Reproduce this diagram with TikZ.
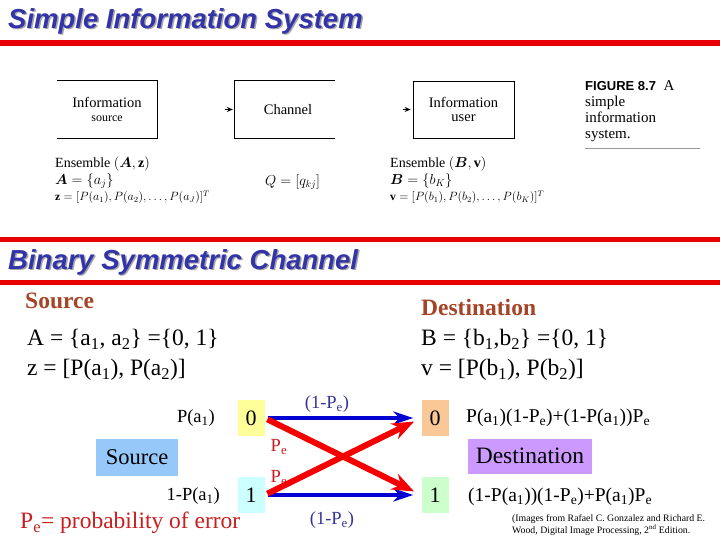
\documentclass[tikz,border=0pt]{standalone}
\usepackage{amsmath,amssymb}
\usepackage{fontspec}
\setmainfont{Liberation Serif}
\newfontfamily\headfont{Liberation Sans}
\usetikzlibrary{positioning,arrows.meta}
\usepackage{xcolor}
\definecolor{headblue}{RGB}{51,51,170}
\definecolor{rulered}{RGB}{232,0,0}
\definecolor{srcbrown}{RGB}{165,68,38}
\definecolor{lblblue}{RGB}{51,51,153}
\definecolor{lblred}{RGB}{200,30,30}
\definecolor{linered}{RGB}{245,0,0}
\definecolor{lineblue}{RGB}{0,0,210}
\definecolor{boxyellow}{RGB}{255,255,153}
\definecolor{boxcyan}{RGB}{204,255,255}
\definecolor{boxorange}{RGB}{250,200,150}
\definecolor{boxgreen}{RGB}{204,255,204}
\definecolor{boxblue}{RGB}{150,200,250}
\definecolor{boxpurple}{RGB}{204,153,255}

\begin{document}
\begin{tikzpicture}[x=1pt,y=-1pt,
  head/.style={font=\headfont\bfseries\itshape\fontsize{27.5}{29}\selectfont,anchor=west,inner sep=0pt},
  fig/.style={font=\fontsize{14.5}{15}\selectfont,align=center,inner sep=0pt},
  ens/.style={font=\fontsize{14}{16.5}\selectfont,align=left,anchor=north west,inner sep=0pt},
  brown/.style={font=\bfseries\fontsize{23.5}{25}\selectfont,text=srcbrown,anchor=west,inner sep=0pt},
  big/.style={font=\fontsize{23.5}{30}\selectfont,anchor=west,inner sep=0pt,align=left},
  mid/.style={font=\fontsize{18.5}{20}\selectfont,inner sep=0pt},
  bit/.style={font=\fontsize{22}{24}\selectfont,minimum width=27pt,minimum height=36pt,inner sep=0pt},
  tag/.style={font=\fontsize{22.5}{24}\selectfont,inner sep=0pt},
  blueline/.style={lineblue,line width=4pt,shorten <=3pt,shorten >=8pt,-{Stealth[length=20pt,width=13pt]}},
  redline/.style={linered,line width=6pt,shorten <=3pt,shorten >=8pt,-{Stealth[length=22pt,width=17pt]}}]
\useasboundingbox (0,0) rectangle (720,540);

% headings and rules
\node[head,text=black!35] (t1s) at (9.5,22.5) {Simple Information System};
\node[head,text=headblue] (t1) at (8,21) {Simple Information System};
\draw[rulered,line width=6pt] (0,43) -- (720,43);
\draw[rulered,line width=5pt] (0,239) -- (720,239);
\node[head,text=black!35] (t2s) at (9.5,263.5) {Binary Symmetric Channel};
\node[head,text=headblue] (t2) at (8,262) {Binary Symmetric Channel};
\draw[rulered,line width=5pt] (0,282) -- (720,282);

% figure 8.7
\node[fig,minimum width=100pt,minimum height=57pt] (isrc) at (107,109.5) {Information\\[-1pt]{\fontsize{12}{13}\selectfont source}};
\draw[line width=0.8pt] (isrc.north west) -- (isrc.north east) -- (isrc.south east) -- (isrc.south west);
\node[fig,minimum width=100pt,minimum height=57pt,text width=100pt,xshift=3pt] (chan) at (285,109.5) {Channel};
\draw[line width=0.8pt] ([xshift=-3pt]chan.north east) -- ([xshift=-3pt]chan.north west) -- ([xshift=-3pt]chan.south west) -- ([xshift=-3pt]chan.south east);
\node[fig,draw,line width=0.8pt,minimum width=101pt,minimum height=57pt] (iuser) at (463.5,109.5) {Information\\[-1pt]user};
\draw[-{Stealth[length=6pt,width=5pt]},line width=0.8pt] ([xshift=-13pt]chan.west) -- ([xshift=-5pt]chan.west);
\draw[-{Stealth[length=6pt,width=5pt]},line width=0.8pt] ([xshift=-10pt]iuser.west) -- ([xshift=-2pt]iuser.west);
\node[ens] (ensa) at (55,157) {Ensemble $(\boldsymbol{A},\mathbf{z})$\\
  $\boldsymbol{A}=\{a_j\}$\\
  {\fontsize{11.5}{12}\selectfont$\mathbf{z}=[P(a_1),P(a_2),\ldots,P(a_J)]^T$}};
\node[ens,anchor=west] (qmat) at (265,182) {$Q=[q_{kj}]$};
\node[ens] (ensb) at (390,157) {Ensemble $(\boldsymbol{B},\mathbf{v})$\\
  $\boldsymbol{B}=\{b_K\}$\\
  {\fontsize{11.5}{12}\selectfont$\mathbf{v}=[P(b_1),P(b_2),\ldots,P(b_K)]^T$}};
\node[ens,font=\fontsize{15}{16}\selectfont] (fcap) at (585,80) {{\headfont\bfseries\fontsize{13}{16}\selectfont FIGURE 8.7}\enspace A\\simple\\information\\system.};
\draw[black!40,line width=0.6pt] (585,148) -- (700,148);

% binary symmetric channel
\node[brown] (srct) at (25,301) {Source};
\node[big] (aset) at (27,355) {A = \{a\textsubscript{1}, a\textsubscript{2}\} =\{0, 1\}\\
  z = [P(a\textsubscript{1}), P(a\textsubscript{2})]};
\node[brown] (dstt) at (421,307) {Destination};
\node[big] (bset) at (421,355) {B = \{b\textsubscript{1},b\textsubscript{2}\} =\{0, 1\}\\
  v = [P(b\textsubscript{1}), P(b\textsubscript{2})]};

\node[bit,fill=boxyellow] (s0) at (251,418) {0};
\node[bit,fill=boxcyan] (s1) at (251,495) {1};
\node[bit,fill=boxorange] (d0) at (435,418) {0};
\node[bit,fill=boxgreen] (d1) at (435,495) {1};
\node[mid,anchor=east] (pa) at (215,418) {P(a\textsubscript{1})};
\node[mid,anchor=east] (pb) at (220,496) {1-P(a\textsubscript{1})};
\node[tag,fill=boxblue,minimum width=82pt,minimum height=37pt] (srcb) at (137,457) {Source};
\node[tag,fill=boxpurple,minimum width=124pt,minimum height=35pt,font=\fontsize{23.5}{24}\selectfont] (dstb) at (530,456) {Destination};
\node[mid,anchor=west,font=\fontsize{19.5}{20}\selectfont] (q0) at (466,418) {P(a\textsubscript{1})(1-P\textsubscript{e})+(1-P(a\textsubscript{1}))P\textsubscript{e}};
\node[mid,anchor=west,font=\fontsize{19.5}{20}\selectfont] (q1) at (468,497) {(1-P(a\textsubscript{1}))(1-P\textsubscript{e})+P(a\textsubscript{1})P\textsubscript{e}};

\node[mid,text=lblblue] (k0) at (327,404) {(1-P\textsubscript{e})};
\node[mid,text=lblblue] (k1) at (332,520) {(1-P\textsubscript{e})};
\node[mid,text=lblred] (e0) at (279,447) {P\textsubscript{e}};
\node[mid,text=lblred] (e1) at (279,478) {P\textsubscript{e}};

\draw[blueline] (s0.east) -- (d0.west);
\draw[blueline] (s1.east) -- (d1.west);
\draw[redline] (s0.east) -- (d1.west);
\draw[redline] (s1.east) -- (d0.west);

\node[big,text=lblred] (perr) at (20,523) {P\textsubscript{e}= probability of error};
\node[anchor=west,inner sep=0pt,align=left,font=\fontsize{9.8}{12}\selectfont] (cred) at (512,525) {(Images from Rafael C. Gonzalez and Richard E.\\Wood, Digital Image Processing, 2\textsuperscript{nd} Edition.};
\end{tikzpicture}
\end{document}
